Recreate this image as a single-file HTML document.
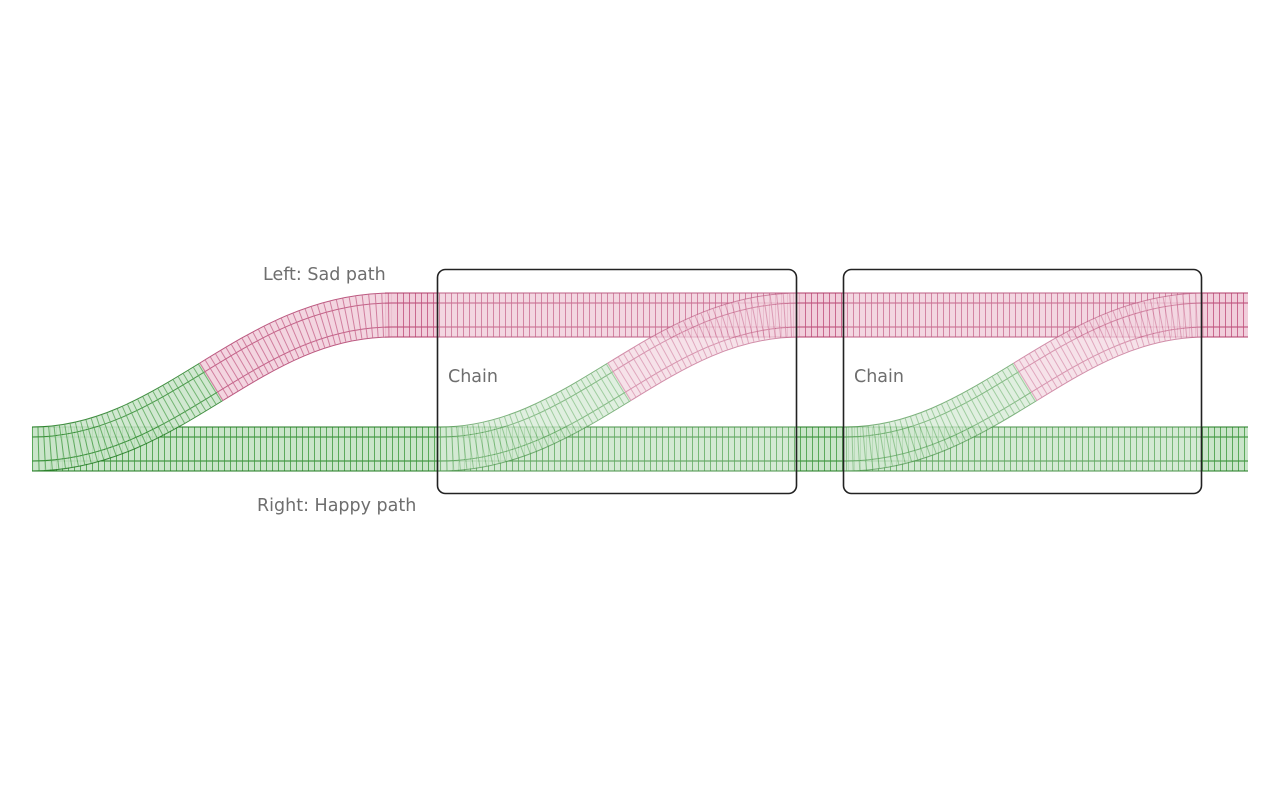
<!DOCTYPE html>
<html><head><meta charset="utf-8"><style>
html,body{margin:0;padding:0;background:#fff;width:1280px;height:790px;overflow:hidden}
svg{display:block}
text{font-family:"DejaVu Sans","Liberation Sans",sans-serif;font-size:17.5px;fill:#6e6e6e}
</style></head><body>
<svg width="1280" height="790" viewBox="0 0 1280 790" xmlns="http://www.w3.org/2000/svg">
<defs>
  <path id="ga" d="M32,449 C102,449 156.5,415.5 211,382" fill="none"/>
  <path id="pa" d="M211,382 C265.5,348.5 320,315 392,315" fill="none"/>
  <path id="gs" d="M32,449 L1248,449" fill="none"/>
  <path id="ps" d="M385,315 L1248,315" fill="none"/>
  <g id="gtrack">
    <use href="#gs" stroke="#1f7a1f" stroke-width="45"/>
    <use href="#gs" stroke="#cae5ca" stroke-width="43"/>
    <use href="#gs" stroke="#2a862a" stroke-width="25"/>
    <use href="#gs" stroke="#cae5ca" stroke-width="23"/>
    <use href="#gs" stroke="#3f9a3f" stroke-width="43" stroke-dasharray="1 5" opacity="0.8"/>
  </g>
  <g id="ptrack">
    <use href="#ps" stroke="#b03c6a" stroke-width="45"/>
    <use href="#ps" stroke="#f1cedb" stroke-width="43"/>
    <use href="#ps" stroke="#b84673" stroke-width="25"/>
    <use href="#ps" stroke="#f1cedb" stroke-width="23"/>
    <use href="#ps" stroke="#c0507c" stroke-width="43" stroke-dasharray="1 5" opacity="0.8"/>
  </g>
  <g id="curve">
    <use href="#ga" stroke="#1f7a1f" stroke-width="45"/>
    <use href="#ga" stroke="#cae5ca" stroke-width="43"/>
    <use href="#ga" stroke="#2a862a" stroke-width="25"/>
    <use href="#ga" stroke="#cae5ca" stroke-width="23"/>
    <use href="#ga" stroke="#3f9a3f" stroke-width="43" stroke-dasharray="1 5" opacity="0.8"/>
    <use href="#pa" stroke="#b03c6a" stroke-width="45"/>
    <use href="#pa" stroke="#f1cedb" stroke-width="43"/>
    <use href="#pa" stroke="#b84673" stroke-width="25"/>
    <use href="#pa" stroke="#f1cedb" stroke-width="23"/>
    <use href="#pa" stroke="#c0507c" stroke-width="43" stroke-dasharray="1 5" opacity="0.8"/>
  </g>
</defs>

<use href="#gtrack"/>
<use href="#ptrack"/>
<g opacity="0.85"><use href="#curve"/></g>
<g opacity="0.7"><use href="#curve" transform="translate(408,0)"/></g>
<g opacity="0.7"><use href="#curve" transform="translate(814,0)"/></g>

<rect x="438" y="270" width="358" height="223" fill="#fff" opacity="0.18"/>
<rect x="844" y="270" width="357" height="223" fill="#fff" opacity="0.18"/>

<rect x="437.5" y="269.5" width="359" height="224" rx="8" fill="none" stroke="#222" stroke-width="1.6"/>
<rect x="843.5" y="269.5" width="358" height="224" rx="8" fill="none" stroke="#222" stroke-width="1.6"/>

<text x="263" y="280">Left: Sad path</text>
<text x="257" y="511">Right: Happy path</text>
<text x="448" y="382">Chain</text>
<text x="854" y="382">Chain</text>
</svg>
</body></html>
